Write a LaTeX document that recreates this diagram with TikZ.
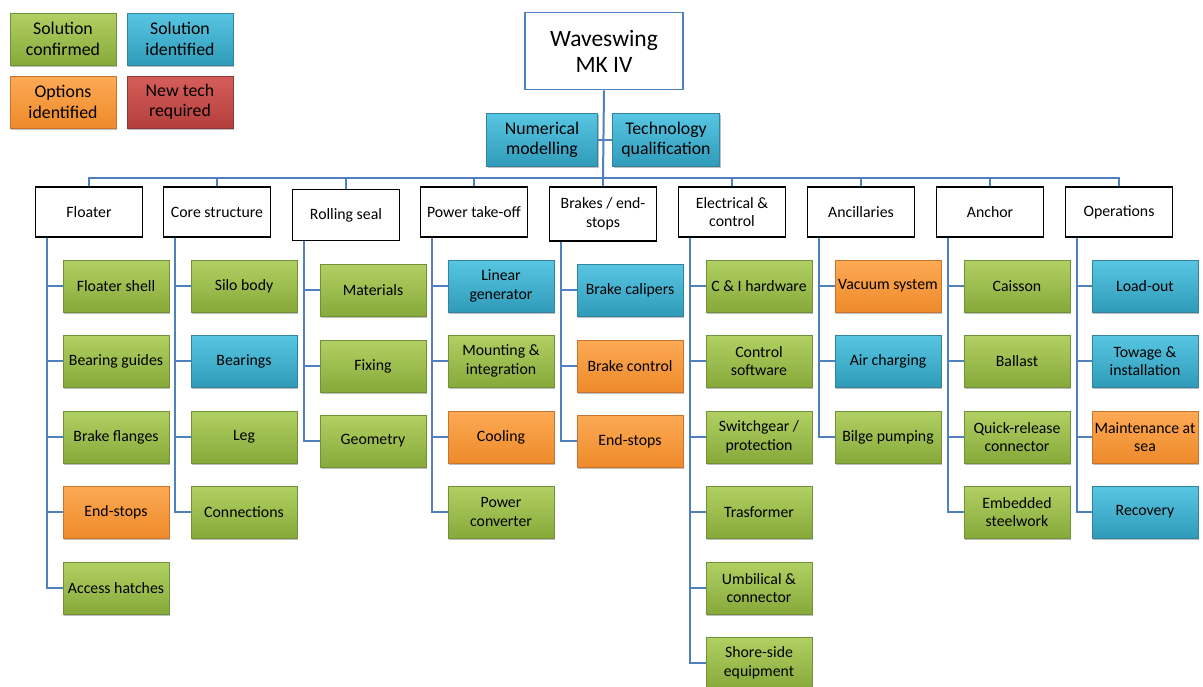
\documentclass[tikz,border=0pt]{standalone}
\usepackage{fontspec}
\setmainfont{Carlito}
\usetikzlibrary{shadows}

\definecolor{linkblue}{HTML}{4F81BD}
\definecolor{confT}{HTML}{B2D063}
\definecolor{confB}{HTML}{86A93A}
\definecolor{confD}{HTML}{71903A}
\definecolor{identT}{HTML}{58C6E3}
\definecolor{identB}{HTML}{2F9BB8}
\definecolor{identD}{HTML}{31849B}
\definecolor{optsT}{HTML}{FDAA55}
\definecolor{optsB}{HTML}{EE8A2A}
\definecolor{optsD}{HTML}{C87330}
\definecolor{newT}{HTML}{D65E5A}
\definecolor{newB}{HTML}{B33F3C}
\definecolor{newD}{HTML}{8E3A38}

\tikzstyle{box} = [minimum width=106pt, minimum height=52pt, inner sep=0pt, align=center,
    line width=0.8pt, font=\fontsize{15.8}{18.5}\selectfont,
    drop shadow={shadow xshift=1.2pt, shadow yshift=-1.8pt, fill=black, opacity=0.25}]
\tikzstyle{conf} = [box, top color=confT, bottom color=confB, draw=confD]
\tikzstyle{ident} = [box, top color=identT, bottom color=identB, draw=identD]
\tikzstyle{opts} = [box, top color=optsT, bottom color=optsB, draw=optsD]
\tikzstyle{newtech} = [box, top color=newT, bottom color=newB, draw=newD]
\tikzstyle{legend} = [font=\fontsize{17.8}{20.5}\selectfont]
\tikzstyle{head} = [draw=black, line width=1.6pt, fill=white, minimum width=107pt,
    minimum height=50pt, inner sep=0pt, align=center, font=\fontsize{15.8}{18.5}\selectfont]
\tikzstyle{link} = [draw=linkblue, line width=2pt]

\begin{document}
\begin{tikzpicture}[x=1pt, y=-1pt]
\useasboundingbox (0,0) rectangle (1203,686);

% legend
\node[conf, legend] (lconf) at (63,39) {Solution\\confirmed};
\node[ident, legend] (lident) at (180,39) {Solution\\identified};
\node[opts, legend] (lopts) at (63,102) {Options\\identified};
\node[newtech, legend] (lnew) at (180,102) {New tech\\required};

% top
\node[draw=linkblue, line width=1.6pt, fill=white, minimum width=158pt, minimum height=77pt,
    align=center, font=\fontsize{23.5}{26}\selectfont] (root) at (604,51) {Waveswing\\MK IV};
\node[ident, legend, minimum width=111pt, minimum height=53pt] (numerical) at (542,140) {Numerical\\modelling};
\node[ident, legend, minimum width=107pt, minimum height=53pt] (techqual) at (666,140) {Technology\\qualification};
\coordinate (bus) at (603,178);

% work areas
\node[head] (floater) at (89,212) {Floater};
\node[head] (core) at (217,212) {Core structure};
\node[head, minimum height=51pt] (rolling) at (346,215) {Rolling seal};
\node[head] (pto) at (474,212) {Power take-off};
\node[head, minimum height=54pt] (brakes) at (603,214) {Brakes / end-\\stops};
\node[head] (elec) at (732,212) {Electrical \&\\control};
\node[head] (ancil) at (861,212) {Ancillaries};
\node[head] (anchor) at (990,212) {Anchor};
\node[head] (ops) at (1119,212) {Operations};

% Floater
\node[conf] (fshell) at (116,286) {Floater shell};
\node[conf] (fguides) at (116,361) {Bearing guides};
\node[conf] (fflanges) at (116,437) {Brake flanges};
\node[opts] (fstops) at (116,512) {End-stops};
\node[conf] (fhatch) at (116,588) {Access hatches};

% Core structure
\node[conf] (csilo) at (244,286) {Silo body};
\node[ident] (cbear) at (244,361) {Bearings};
\node[conf] (cleg) at (244,437) {Leg};
\node[conf] (cconn) at (244,512) {Connections};

% Rolling seal
\node[conf] (rmat) at (373,290) {Materials};
\node[conf] (rfix) at (373,366) {Fixing};
\node[conf] (rgeom) at (373,441) {Geometry};

% Power take-off
\node[ident] (plin) at (501,286) {Linear\\generator};
\node[conf] (pmount) at (501,361) {Mounting \&\\integration};
\node[opts] (pcool) at (501,437) {Cooling};
\node[conf] (pconv) at (501,512) {Power\\converter};

% Brakes / end-stops
\node[ident] (bcal) at (630,290) {Brake calipers};
\node[opts] (bctrl) at (630,366) {Brake control};
\node[opts] (bstops) at (630,441) {End-stops};

% Electrical & control
\node[conf] (eci) at (759,286) {C \& I hardware};
\node[conf] (esoft) at (759,361) {Control\\software};
\node[conf] (eswitch) at (759,437) {Switchgear /\\protection};
\node[conf] (etrans) at (759,512) {Trasformer};
\node[conf] (eumb) at (759,588) {Umbilical \&\\connector};
\node[conf] (eshore) at (759,663) {Shore-side\\equipment};

% Ancillaries
\node[opts] (avac) at (888,286) {Vacuum system};
\node[ident] (aair) at (888,361) {Air charging};
\node[conf] (abilge) at (888,437) {Bilge pumping};

% Anchor
\node[conf] (ncais) at (1017,286) {Caisson};
\node[conf] (nball) at (1017,361) {Ballast};
\node[conf] (nquick) at (1017,437) {Quick-release\\connector};
\node[conf] (nsteel) at (1017,512) {Embedded\\steelwork};

% Operations
\node[ident] (oload) at (1145,286) {Load-out};
\node[ident] (otow) at (1145,361) {Towage \&\\installation};
\node[opts] (omaint) at (1145,437) {Maintenance at\\sea};
\node[ident] (orec) at (1145,512) {Recovery};

% connectors
\begin{scope}[on background layer/.try]
\draw[link] (root.south) -- (bus);
\draw[link] (numerical.east) -- (techqual.west);
\foreach \h in {floater,core,rolling,pto,brakes,elec,ancil,anchor,ops}
    \draw[link] (bus) -| (\h.north);
\foreach \h/\c in {floater/fshell, floater/fguides, floater/fflanges, floater/fstops, floater/fhatch,
    core/csilo, core/cbear, core/cleg, core/cconn,
    rolling/rmat, rolling/rfix, rolling/rgeom,
    pto/plin, pto/pmount, pto/pcool, pto/pconv,
    brakes/bcal, brakes/bctrl, brakes/bstops,
    elec/eci, elec/esoft, elec/eswitch, elec/etrans, elec/eumb, elec/eshore,
    ancil/avac, ancil/aair, ancil/abilge,
    anchor/ncais, anchor/nball, anchor/nquick, anchor/nsteel,
    ops/oload, ops/otow, ops/omaint, ops/orec}
    \draw[link] ([xshift=12pt]\h.south west) |- (\c.west);
\end{scope}
\end{tikzpicture}
\end{document}
